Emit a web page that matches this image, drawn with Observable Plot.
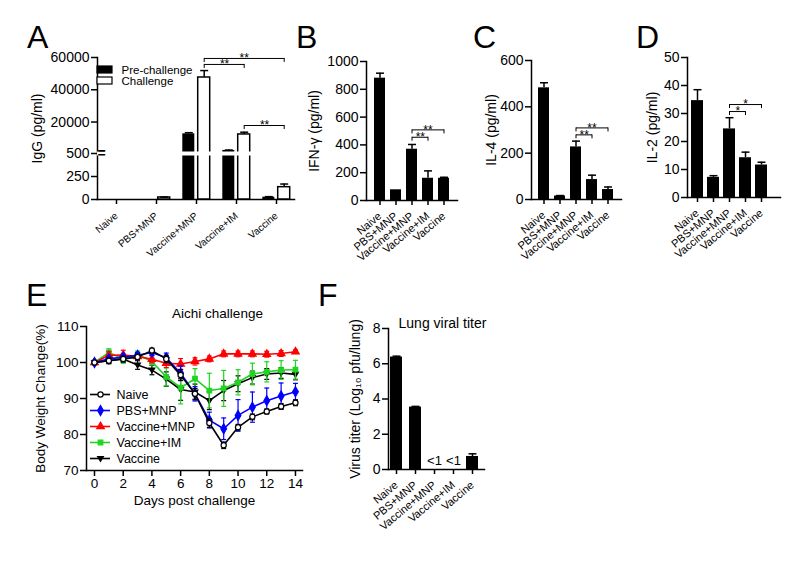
<!DOCTYPE html>
<html>
<head>
<meta charset="utf-8">
<script src="https://cdn.jsdelivr.net/npm/d3@7"></script>
<script src="https://cdn.jsdelivr.net/npm/@observablehq/plot@0.6"></script>
<style>
  html, body { margin: 0; padding: 0; background: #ffffff; }
  #fig { position: relative; width: 800px; height: 573px; overflow: hidden; background: #ffffff;
         font-family: "Liberation Sans", Arial, Helvetica, sans-serif; color: #000; }
  #fig > svg { position: absolute; left: 0; top: 0; }
  .panel-letter { position: absolute; font-size: 32px; line-height: 1; }
</style>
</head>
<body>
<div id="fig">
  <div class="panel-letter" style="left:27px;top:21px">A</div>
  <div class="panel-letter" style="left:296px;top:21px">B</div>
  <div class="panel-letter" style="left:473px;top:21px">C</div>
  <div class="panel-letter" style="left:636px;top:21px">D</div>
  <div class="panel-letter" style="left:26px;top:279px">E</div>
  <div class="panel-letter" style="left:318px;top:279px">F</div>
</div>
<script>
// ---------------- data ----------------
const groups = ["Naive", "PBS+MNP", "Vaccine+MNP", "Vaccine+IM", "Vaccine"];

// A: IgG (pg/ml), pre-challenge vs challenge
const iggPre     = [0, 0, 12700, 2400, 25];
const iggPreErr  = [0, 0, 700, 250, 6];
const iggChal    = [0, 22, 47600, 12300, 134];
const iggChalErr = [0, 4, 4300, 1400, 34];
const iggTicks   = [0, 250, 500, 20000, 40000, 60000];
const iggLegend  = ["Pre-challenge", "Challenge"];
const iggSig = [
  {from: "Vaccine+MNP", to: "Vaccine", level: 59400, label: "**"},
  {from: "Vaccine+MNP", to: "Vaccine+IM", level: 55700, label: "**"},
  {from: "Vaccine+IM", to: "Vaccine", level: 17850, label: "**"}
];

// B: IFN-γ
const ifnMean  = [880, 77, 369, 160, 160];
const ifnErr   = [36, 0, 34, 53, 7];
const ifnTicks = [0, 200, 400, 600, 800, 1000];
const ifnSig = [
  {from: "Vaccine+MNP", to: "Vaccine", level: 508, label: "**"},
  {from: "Vaccine+MNP", to: "Vaccine+IM", level: 455, label: "**"}
];

// C: IL-4
const il4Mean  = [482, 15, 227, 86, 43];
const il4Err   = [22, 2, 25, 19, 11];
const il4Ticks = [0, 200, 400, 600];
const il4Sig = [
  {from: "Vaccine+MNP", to: "Vaccine", level: 309, label: "**"},
  {from: "Vaccine+MNP", to: "Vaccine+IM", level: 279, label: "**"}
];

// D: IL-2
const il2Mean  = [34.6, 7.2, 24.5, 14.2, 11.6];
const il2Err   = [3.9, 0.6, 4, 2, 1];
const il2Ticks = [0, 10, 20, 30, 40, 50];
const il2Sig = [
  {from: "Vaccine+MNP", to: "Vaccine", level: 33.2, label: "*"},
  {from: "Vaccine+MNP", to: "Vaccine+IM", level: 30.7, label: "*"}
];

// E: body weight change (%)
const days       = [0, 1, 2, 3, 4, 5, 6, 7, 8, 9, 10, 11, 12, 13, 14];
const dayTicks   = [0, 2, 4, 6, 8, 10, 12, 14];
const weightTicks = [70, 80, 90, 100, 110];
const naiveMean   = [100, 100.5, 101, 101.5, 103.3, 101, 96.5, 91.3, 83.2, 77, 82, 84.9, 86.4, 87.8, 88.8];
const naiveErr    = [0.3, 0.8, 0.8, 0.8, 0.7, 1, 1.5, 1.5, 1.2, 0.9, 0.8, 0.8, 0.7, 0.8, 0.8];
const pbsMean     = [100, 101, 101.5, 102, 102.8, 101.3, 97, 91.3, 84, 81.6, 85.3, 87.6, 89.4, 90.7, 91.9];
const pbsErr      = [0.3, 0.8, 0.8, 0.8, 0.8, 1.3, 2, 2, 2.2, 3, 4.4, 4.2, 3.5, 3.6, 2.3];
const vacMnpMean  = [100, 102, 102.1, 101.7, 100.9, 99.8, 99.6, 100.3, 101, 102.4, 102.4, 102.4, 102.3, 102.5, 103];
const vacMnpErr   = [0.3, 1, 1.3, 1, 1, 1.2, 1.5, 1, 0.8, 0.8, 0.8, 0.8, 0.8, 0.8, 0.5];
const vacImMean   = [100, 102.8, 101, 102.2, 100.3, 96, 93, 95.5, 92.2, 92.8, 94.5, 96.8, 97.4, 97.9, 98];
const vacImErr    = [0.3, 1, 1.2, 1, 1, 2.5, 4.5, 2.8, 4.8, 5, 3.5, 3, 2.8, 2.6, 2.6];
const vaccineMean = [100, 100.5, 101, 99.3, 97.9, 95.4, 92.5, 91.8, 89.4, 92.2, 94.1, 95.8, 96.8, 97.1, 96.7];
const vaccineErr  = [0.3, 0.8, 1, 1.2, 1.3, 2, 3, 2.2, 2.5, 2.8, 2.2, 1.8, 1.5, 1.5, 1.5];

// F: lung viral titer
const titerMean  = [6.38, 3.54, null, null, 0.74];
const titerErr   = [0.05, 0.04, 0, 0, 0.15];
const titerNote  = ["", "", "<1", "<1", ""];
const titerTicks = [0, 2, 4, 6, 8];

// ---------------- helpers ----------------
const W = 800, H = 573;
const FONT = '"Liberation Sans", Arial, Helvetica, sans-serif';
const fig = document.getElementById("fig");
const fmt = d3.format("d");
const idx = (g) => groups.indexOf(g);

function P(opts) {
  return Plot.plot({
    width: W, height: H,
    style: {background: "transparent", fontFamily: FONT, fontSize: "14px", color: "#000", overflow: "visible"},
    ...opts
  });
}

// horizontal error-bar cap
const capSym = {draw(ctx, size) { const r = Math.sqrt(size) / 2; ctx.moveTo(-r, 0); ctx.lineTo(r, 0); }};
// downward triangle
const downTri = {draw(ctx, size) {
  const s = Math.sqrt(size);
  ctx.moveTo(-s * 0.62, -s * 0.42); ctx.lineTo(s * 0.62, -s * 0.42); ctx.lineTo(0, s * 0.62); ctx.closePath();
}};

function sigMarks(sig, step, off = 0) {
  const even = sig.filter((d) => (idx(d.to) - idx(d.from)) % 2 === 0);
  const odd = sig.filter((d) => (idx(d.to) - idx(d.from)) % 2 !== 0);
  const ends = sig.flatMap((d) => [{g: d.from, level: d.level}, {g: d.to, level: d.level}]);
  return [
    Plot.link(sig, {x1: "from", x2: "to", y1: "level", y2: "level", stroke: "#000", strokeWidth: 1, dx: off}),
    Plot.ruleX(ends, {x: "g", y1: "level", y2: "level", insetTop: 4, stroke: "#000", strokeWidth: 1, dx: off}),
    Plot.text(even, {x: (d) => groups[(idx(d.from) + idx(d.to)) / 2], y: "level", text: "label", dx: off, dy: 0, fontSize: 12}),
    Plot.text(odd, {x: (d) => groups[(idx(d.from) + idx(d.to) - 1) / 2], y: "level", text: "label", dx: off + step / 2, dy: 0, fontSize: 12})
  ];
}

function axisYMark(ticks, label, labelOffset, fontSize = 14) {
  return Plot.axisY({ticks, tickFormat: fmt, tickSize: 6, tickPadding: 2, strokeWidth: 1.5, fontSize,
                     label, labelAnchor: "center", labelOffset, labelArrow: "none"});
}
function axisXRot(fontSize = 11, tickPadding = 9) {
  return Plot.axisX({tickRotate: -40, tickSize: 5, tickPadding, strokeWidth: 1.5, fontSize, label: null});
}

function barPanel(cfg) {
  const {left, right, top, bottom, pi, po, align = 0.5, yDomain, yTicks, label, labelOffset, mean, err, sig, note} = cfg;
  const rows = groups.map((g, i) => ({group: g, v: mean[i], e: err[i], note: note ? note[i] : ""}));
  const step = (right - left) / (groups.length - pi + 2 * po);
  const withErr = rows.filter((d) => d.v != null && d.e > 0);
  return P({
    marginLeft: left, marginRight: W - right, marginTop: top, marginBottom: H - bottom,
    x: {type: "band", domain: groups, paddingInner: pi, paddingOuter: po, align},
    y: {domain: yDomain},
    marks: [
      Plot.frame({anchor: "left", strokeWidth: 1.5}),
      Plot.frame({anchor: "bottom", strokeWidth: 1.5}),
      axisYMark(yTicks, label, labelOffset),
      axisXRot(),
      Plot.barY(rows.filter((d) => d.v != null), {x: "group", y: "v", fill: "#000"}),
      Plot.ruleX(withErr, {x: "group", y1: "v", y2: (d) => d.v + d.e, stroke: "#000", strokeWidth: 1.5}),
      Plot.dot(withErr, {x: "group", y: (d) => d.v + d.e, symbol: capSym, r: 4.5, stroke: "#000", strokeWidth: 1.5}),
      ...(sig ? sigMarks(sig, step) : []),
      ...(note ? [Plot.text(rows.filter((d) => d.note), {x: "group", y: () => 0, text: "note", dy: -9, fontSize: 13})] : [])
    ]
  });
}

// ---------------- Panel A ----------------
{
  const left = 97, right = 294, pi = 0.704, po = 0.27, off = 7.7;
  const step = (right - left) / (groups.length - pi + 2 * po);
  const rows = groups.map((g, i) => ({group: g, pre: iggPre[i], preErr: iggPreErr[i], chal: iggChal[i], chalErr: iggChalErr[i]}));
  fig.appendChild(P({
    marginLeft: left, marginRight: W - right, marginTop: 57, marginBottom: H - 199,
    x: {type: "band", domain: groups, paddingInner: pi, paddingOuter: po},
    y: {type: "linear", domain: [0, 500, 60000], range: [199, 153, 57]},
    marks: [
      Plot.frame({anchor: "left", strokeWidth: 1.5}),
      Plot.frame({anchor: "bottom", strokeWidth: 1.5}),
      axisYMark(iggTicks, "IgG (pg/ml)", 65),
      axisXRot(10, 10),
      Plot.barY(rows, {x: "group", y: "pre", fill: "#000", dx: -off}),
      Plot.barY(rows, {x: "group", y: "chal", fill: "#fff", stroke: "#000", strokeWidth: 1.5, dx: off}),
      Plot.ruleX(rows.filter((d) => d.preErr > 0), {x: "group", y1: "pre", y2: (d) => d.pre + d.preErr, strokeWidth: 1.5, dx: -off}),
      Plot.dot(rows.filter((d) => d.preErr > 0), {x: "group", y: (d) => d.pre + d.preErr, symbol: capSym, r: 4.5, stroke: "#000", strokeWidth: 1.5, dx: -off}),
      Plot.ruleX(rows.filter((d) => d.chalErr > 0), {x: "group", y1: "chal", y2: (d) => d.chal + d.chalErr, strokeWidth: 1.5, dx: off}),
      Plot.dot(rows.filter((d) => d.chalErr > 0), {x: "group", y: (d) => d.chal + d.chalErr, symbol: capSym, r: 4.5, stroke: "#000", strokeWidth: 1.5, dx: off}),
      // axis break
      Plot.ruleY([500], {stroke: "#fff", strokeWidth: 4}),
      Plot.text([500], {y: (d) => d, frameAnchor: "left", text: () => "=", fontSize: 14, fontWeight: "bold"}),
      ...sigMarks(iggSig, step, off)
    ]
  }));
  // legend A
  fig.appendChild(P({
    marginLeft: 97, marginRight: W - 112, marginTop: 66, marginBottom: H - 85,
    y: {type: "band", domain: iggLegend, paddingInner: 0.34, paddingOuter: 0, axis: null},
    marks: [
      Plot.cell([iggLegend[0]], {y: (d) => d, fill: "#000", stroke: "#000", strokeWidth: 1.2}),
      Plot.cell([iggLegend[1]], {y: (d) => d, fill: "#fff", stroke: "#000", strokeWidth: 1.2}),
      Plot.text(iggLegend, {y: (d) => d, text: (d) => d, frameAnchor: "right", textAnchor: "start", dx: 9, fontSize: 11.5})
    ]
  }));
}

// ---------------- Panels B, C, D ----------------
fig.appendChild(barPanel({left: 366, right: 457, top: 61, bottom: 200, pi: 0.284, po: 0.358,
  yDomain: [0, 1000], yTicks: ifnTicks, label: "IFN-γ (pg/ml)", labelOffset: 57, mean: ifnMean, err: ifnErr, sig: ifnSig}));
fig.appendChild(barPanel({left: 531, right: 621, top: 60, bottom: 199, pi: 0.284, po: 0.358,
  yDomain: [0, 600], yTicks: il4Ticks, label: "IL-4 (pg/ml)", labelOffset: 45, mean: il4Mean, err: il4Err, sig: il4Sig}));
fig.appendChild(barPanel({left: 687, right: 780, top: 57, bottom: 197, pi: 0.277, po: 0.44, align: 0.24,
  yDomain: [0, 50], yTicks: il2Ticks, label: "IL-2 (pg/ml)", labelOffset: 40, mean: il2Mean, err: il2Err, sig: il2Sig}));

// ---------------- Panel E ----------------
const series = [
  {name: "Naive",       mean: naiveMean,   err: naiveErr,   color: "#000000", symbol: "circle",   fill: "#ffffff", r: 2.6},
  {name: "PBS+MNP",     mean: pbsMean,     err: pbsErr,     color: "#0000ff", symbol: "diamond",  fill: "#0000ff", r: 3},
  {name: "Vaccine+MNP", mean: vacMnpMean,  err: vacMnpErr,  color: "#ff0000", symbol: "triangle", fill: "#ff0000", r: 2.8},
  {name: "Vaccine+IM",  mean: vacImMean,   err: vacImErr,   color: "#22d422", symbol: "square",   fill: "#22d422", r: 2.6},
  {name: "Vaccine",     mean: vaccineMean, err: vaccineErr, color: "#000000", symbol: downTri,    fill: "#000000", r: 2.6}
];
const seriesNames = series.map((s) => s.name);
{
  const seriesMarks = [...series].reverse().flatMap((s) => {
    const rows = days.map((d, i) => ({day: d, m: s.mean[i], e: s.err[i]}));
    return [
      Plot.ruleX(rows, {x: "day", y1: (d) => d.m - d.e, y2: (d) => d.m + d.e, stroke: s.color, strokeWidth: 1.2}),
      Plot.dot(rows, {x: "day", y: (d) => d.m + d.e, symbol: capSym, r: 2.8, stroke: s.color, strokeWidth: 1.2}),
      Plot.dot(rows, {x: "day", y: (d) => d.m - d.e, symbol: capSym, r: 2.8, stroke: s.color, strokeWidth: 1.2}),
      Plot.line(rows, {x: "day", y: "m", stroke: s.color, strokeWidth: 1.6}),
      Plot.dot(rows, {x: "day", y: "m", symbol: s.symbol, r: s.r, fill: s.fill, stroke: s.color, strokeWidth: 1.2})
    ];
  });
  fig.appendChild(P({
    marginLeft: 86, marginRight: W - 302, marginTop: 326, marginBottom: H - 470,
    x: {domain: [-0.557, 14.49]},
    y: {domain: [70, 110]},
    marks: [
      Plot.frame({anchor: "left", strokeWidth: 1.5}),
      Plot.frame({anchor: "bottom", strokeWidth: 1.5}),
      axisYMark(weightTicks, "Body Weight Change(%)", 51, 13.5),
      Plot.axisX({ticks: dayTicks, tickFormat: fmt, tickSize: 6, tickPadding: 2, strokeWidth: 1.5, fontSize: 13.5,
                  label: "Days post challenge", labelAnchor: "center", labelOffset: 34, labelArrow: "none"}),
      ...seriesMarks,
      Plot.text(["Aichi challenge"], {text: (d) => d, frameAnchor: "top", dx: 23, dy: -18, fontSize: 13.5})
    ]
  }));
  // legend E
  fig.appendChild(P({
    marginLeft: 90, marginRight: W - 110, marginTop: 393, marginBottom: H - 459,
    y: {type: "point", domain: seriesNames, padding: 0, axis: null},
    marks: [
      ...series.map((s) => Plot.ruleY([s.name], {stroke: s.color, strokeWidth: 1.6})),
      ...series.map((s) => Plot.dot([s.name], {y: (d) => d, symbol: s.symbol, r: s.r, fill: s.fill, stroke: s.color, strokeWidth: 1.2})),
      Plot.text(seriesNames, {y: (d) => d, text: (d) => d, frameAnchor: "right", textAnchor: "start", dx: 6, fontSize: 12.5})
    ]
  }));
}

// ---------------- Panel F ----------------
{
  const f = barPanel({left: 388, right: 484, top: 328, bottom: 469, pi: 0.392, po: 0.126, align: 0.2,
    yDomain: [0, 8], yTicks: titerTicks, label: "Virus titer (Log\u2081\u2080 pfu/lung)", labelOffset: 38,
    mean: titerMean, err: titerErr, note: titerNote});
  fig.appendChild(f);
  fig.appendChild(P({
    marginLeft: 388, marginRight: W - 484, marginTop: 328, marginBottom: H - 469,
    marks: [Plot.text(["Lung viral titer"], {text: (d) => d, frameAnchor: "top", dx: 6, dy: -10, fontSize: 14})]
  }));
}
</script>
</body>
</html>
